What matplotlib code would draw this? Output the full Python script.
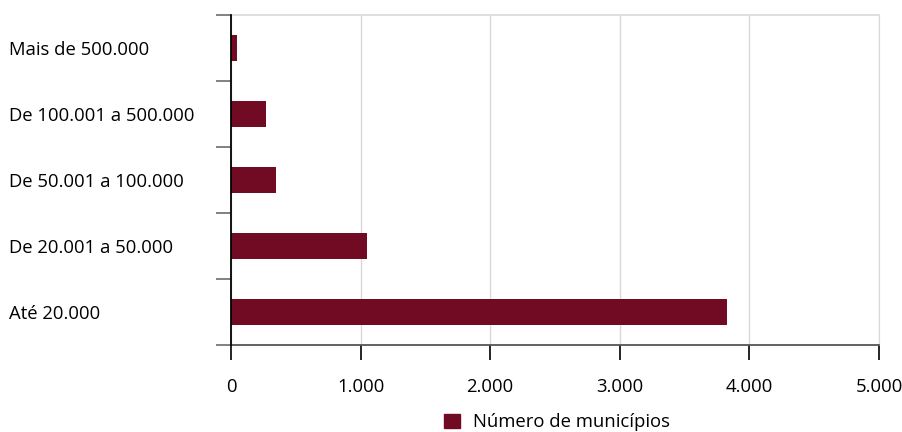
import numpy as np
import matplotlib.pyplot as plt
from matplotlib.patches import Patch

plt.rcParams['font.family'] = ['Open Sans', 'DejaVu Sans']

faixas = ['Mais de 500.000', 'De 100.001 a 500.000', 'De 50.001 a 100.000',
          'De 20.001 a 50.000', 'Até 20.000']
municipios = [50, 272, 351, 1051, 3831]
xticks = [0, 1000, 2000, 3000, 4000, 5000]
xlabels = ['0', '1.000', '2.000', '3.000', '4.000', '5.000']

cor = '#700b23'

fig = plt.figure(figsize=(9.03, 4.32), dpi=100)
ax = fig.add_axes([231 / 903, 1 - 345 / 432, (879 - 231) / 903, (345 - 15) / 432])

y = np.arange(len(faixas))[::-1]
ax.barh(y, municipios, height=0.4, color=cor, zorder=3)

ax.set_xlim(0, 5000)
ax.set_ylim(-0.5, len(faixas) - 0.5)
ax.set_xticks(xticks)
ax.set_xticklabels(xlabels, fontsize=13.3)
ax.set_yticks(y)
ax.set_yticklabels(faixas, fontsize=13.3, ha='left')
ax.set_yticks(np.arange(len(faixas) + 1) - 0.5, minor=True)

ax.tick_params(axis='y', which='major', length=0, pad=160)
ax.tick_params(axis='y', which='minor', length=11, width=1.3, color='#777777')
ax.tick_params(axis='x', which='major', length=11, width=1.2, color='black', pad=13)

ax.grid(axis='x', color='#d9d9d9', linewidth=1, zorder=0)
ax.spines['left'].set_color('black')
ax.spines['left'].set_linewidth(1.3)
ax.spines['left'].set_zorder(4)
ax.spines['bottom'].set_color('#555555')
ax.spines['bottom'].set_linewidth(1.3)
ax.spines['top'].set_color('#dddddd')
ax.spines['top'].set_linewidth(1.3)
ax.spines['right'].set_color('#d9d9d9')

fig.legend(handles=[Patch(color=cor, label='Número de municípios')],
           loc='upper center', bbox_to_anchor=(0.617, 1 - 406 / 432),
           frameon=False, fontsize=13.3, handlelength=0.85, handleheight=0.85,
           handletextpad=0.7, borderaxespad=0)

fig.savefig('out.png', dpi=100)
